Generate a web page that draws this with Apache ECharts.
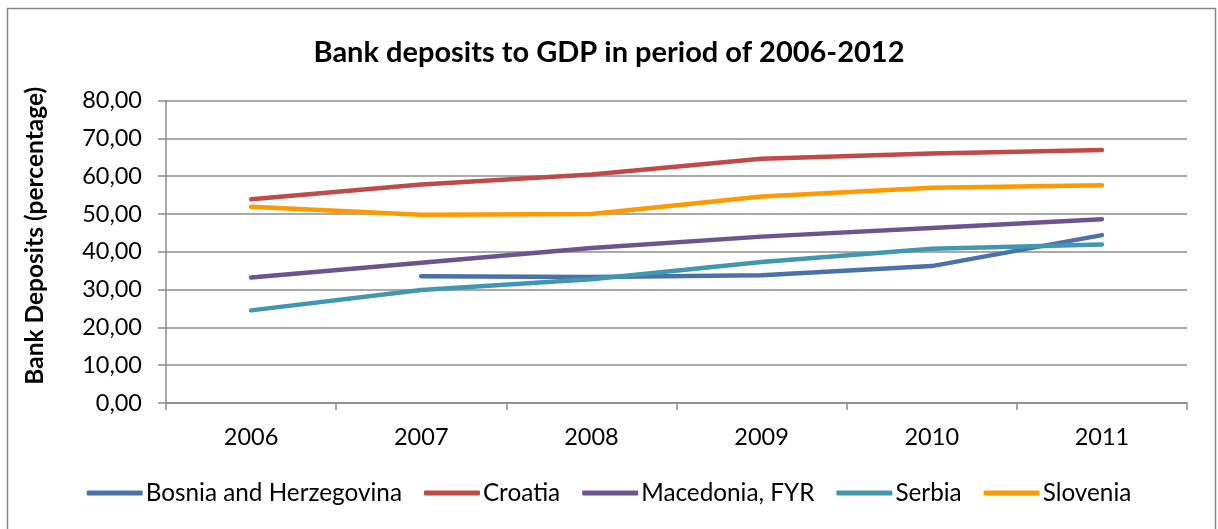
<!DOCTYPE html>
<html>
<head>
<meta charset="utf-8">
<script src="https://cdn.jsdelivr.net/npm/echarts@6/dist/echarts.min.js"></script>
<style>
  html, body { margin: 0; padding: 0; background: #ffffff; }
  #chart { width: 1218px; height: 529px; }
</style>
</head>
<body>
<div id="chart"></div>
<script>
// Bank deposits as a share of GDP, by country and year
const years = ['2006', '2007', '2008', '2009', '2010', '2011'];
const bosnia    = [null, 33.5, 33.3, 33.8, 36.2, 44.4];
const croatia   = [53.9, 57.8, 60.4, 64.6, 66.0, 66.9];
const macedonia = [33.2, 37.1, 41.0, 44.0, 46.3, 48.6];
const serbia    = [24.5, 29.9, 32.7, 37.3, 40.8, 41.9];
const slovenia  = [51.9, 49.8, 50.0, 54.6, 56.9, 57.6];

const seriesDefs = [
  { name: 'Bosnia and Herzegovina', data: bosnia,    color: '#4A72A8' },
  { name: 'Croatia',                data: croatia,   color: '#BE4B48' },
  { name: 'Macedonia, FYR',         data: macedonia, color: '#6D548F' },
  { name: 'Serbia',                 data: serbia,    color: '#4197AF' },
  { name: 'Slovenia',               data: slovenia,  color: '#FF9900' }
];

const FONT = 'Lato';
const GRID = '#8C8C8C';

const chart = echarts.init(document.getElementById('chart'), null, { renderer: 'canvas' });

chart.setOption({
  backgroundColor: '#ffffff',
  animation: false,
  title: {
    text: 'Bank deposits to GDP in period of 2006-2012',
    left: 'center',
    top: 33,
    textStyle: { fontFamily: FONT, fontWeight: 'bold', fontSize: 29, color: '#000000' }
  },
  graphic: [{
    type: 'rect',
    shape: { x: 7.5, y: 8.5, width: 1208, height: 530 },
    style: { fill: 'none', stroke: '#868686', lineWidth: 1.5 },
    silent: true
  }],
  grid: { left: 166, right: 31, top: 100.5, bottom: 126, containLabel: false },
  legend: {
    bottom: 19,
    left: 'center',
    itemWidth: 56,
    itemHeight: 5,
    itemGap: 22,
    icon: 'roundRect',
    textStyle: { fontFamily: FONT, fontSize: 24.3, color: '#000000', padding: [0, 0, 0, -2] },
    data: seriesDefs.map(s => s.name)
  },
  xAxis: {
    type: 'category',
    data: years,
    boundaryGap: true,
    axisLine: { lineStyle: { color: GRID, width: 1.5 } },
    axisTick: { show: true, length: 7, lineStyle: { color: GRID, width: 1.5 } },
    axisLabel: { fontFamily: FONT, fontSize: 23.5, color: '#000000', margin: 22 }
  },
  yAxis: {
    type: 'value',
    min: 0,
    max: 80,
    interval: 10,
    name: 'Bank Deposits (percentage)',
    nameLocation: 'middle',
    nameGap: 118,
    nameTextStyle: {
      fontFamily: FONT, fontWeight: 'bold', fontSize: 24.5, color: '#000000',
      padding: [0, 0, 0, 32]
    },
    axisLine: { show: true, lineStyle: { color: GRID, width: 1.5 } },
    axisTick: { show: true, length: 8, lineStyle: { color: GRID, width: 1.5 } },
    axisLabel: {
      fontFamily: FONT, fontSize: 23.5, color: '#000000', margin: 24,
      formatter: v => v.toFixed(2).replace('.', ',')
    },
    splitLine: { lineStyle: { color: GRID, width: 1.5 } }
  },
  series: seriesDefs.map(s => ({
    name: s.name,
    type: 'line',
    data: s.data,
    showSymbol: false,
    symbol: 'none',
    connectNulls: false,
    color: s.color,
    lineStyle: { color: s.color, width: 4.5, cap: 'round', join: 'round' }
  }))
});
</script>
</body>
</html>
